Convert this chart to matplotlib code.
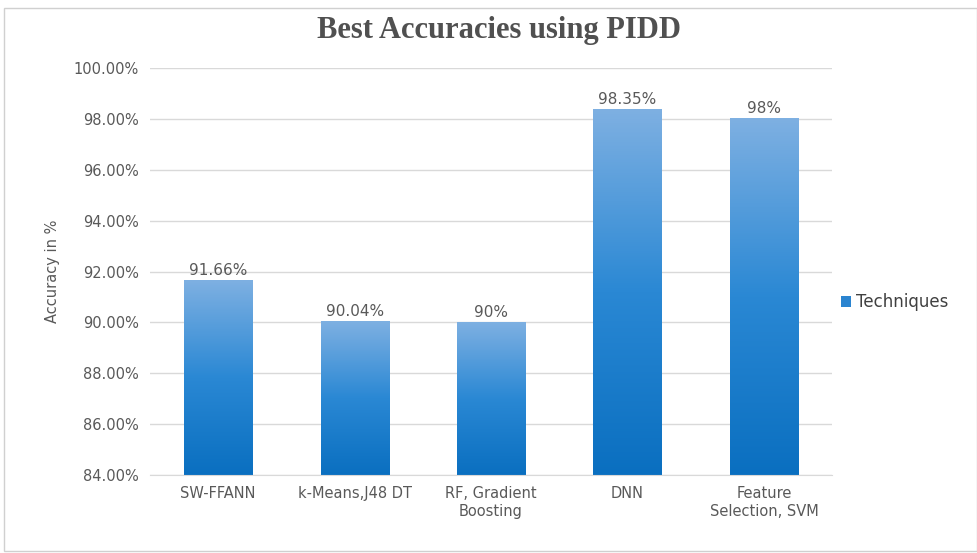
import matplotlib
matplotlib.use('Agg')

import matplotlib.pyplot as plt
import numpy as np
from matplotlib.colors import LinearSegmentedColormap
from matplotlib.patches import Rectangle
from matplotlib.ticker import FuncFormatter

techniques = ['SW-FFANN', 'k-Means,J48 DT', 'RF, Gradient\nBoosting', 'DNN', 'Feature\nSelection, SVM']
accuracy = [91.66, 90.04, 90.0, 98.35, 98.0]
value_labels = ['91.66%', '90.04%', '90%', '98.35%', '98%']
yticks = [84, 86, 88, 90, 92, 94, 96, 98, 100]

gray = '#595959'
cmap = LinearSegmentedColormap.from_list('bar', ['#0a6fc0', '#2a88d4', '#7eb0e2'])

fig = plt.figure(figsize=(9.78, 5.53), dpi=100)
ax = fig.add_axes([0.1534, 0.141, 0.6974, 0.736])

ymin, ymax = 84, 100
width = 0.5
grad = np.linspace(0, 1, 256).reshape(-1, 1)

for i, v in enumerate(accuracy):
    ax.imshow(grad, cmap=cmap, origin='lower', aspect='auto',
              extent=[i - width / 2, i + width / 2, ymin, v], zorder=2)
    ax.text(i, v + 0.1, value_labels[i], ha='center', va='bottom',
            fontsize=11, color=gray, zorder=3)

ax.set_xlim(-0.5, len(techniques) - 0.5)
ax.set_ylim(ymin, ymax)
ax.set_yticks(yticks)
ax.yaxis.set_major_formatter(FuncFormatter(lambda y, p: '%.2f%%' % y))
ax.set_xticks(range(len(techniques)))
ax.set_xticklabels(techniques)
ax.tick_params(axis='both', length=0, labelsize=10.5, labelcolor=gray, pad=8)
ax.grid(axis='y', color='#d9d9d9', linewidth=1, zorder=0)
ax.set_axisbelow(True)
for s in ['top', 'right', 'left']:
    ax.spines[s].set_visible(False)
ax.spines['bottom'].set_color('#d9d9d9')
ax.set_ylabel('Accuracy in %', fontsize=10.5, color=gray, labelpad=10)

handle = Rectangle((0, 0), 1, 1, facecolor='#2a84d0')
leg = fig.legend([handle], ['Techniques'], loc='center left',
                 bbox_to_anchor=(0.845, 0.453), frameon=False,
                 fontsize=12, handlelength=0.6, handleheight=0.6,
                 handletextpad=0.3)
for t in leg.get_texts():
    t.set_color('#404040')

fig.text(0.51, 0.945, 'Best Accuracies using PIDD', ha='center', va='center',
         fontsize=22, fontweight='bold', family='Liberation Serif', color='#505050')

fig.patches.append(Rectangle((0.004, 0.003), 0.995, 0.982, transform=fig.transFigure,
                             fill=False, edgecolor='#d0d0d0', linewidth=1))

plt.savefig('out.png', dpi=100)
